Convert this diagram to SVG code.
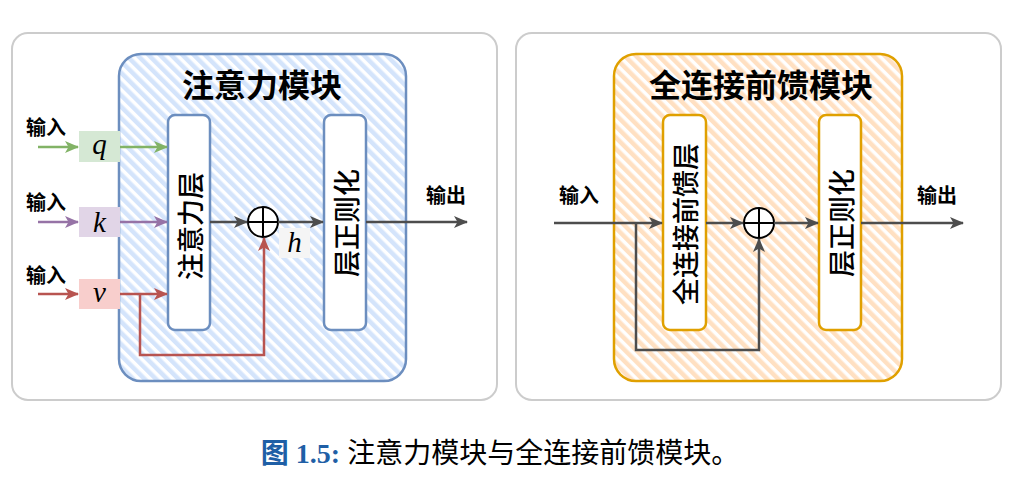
<svg xmlns="http://www.w3.org/2000/svg" width="1034" height="490" viewBox="0 0 1034 490">
<defs>
<style>
.panel{fill:#fff;stroke:#cccccc;stroke-width:2}
.lbl{font-family:"Noto Sans CJK SC",sans-serif;font-weight:bold;fill:#000}
.title{font-size:32px}
.io{font-size:20px}
.vt{font-size:27px;font-weight:500}
.math{font-family:"Liberation Serif",serif;font-style:italic;font-size:29px;fill:#000}
.box{fill:#fff;stroke-width:2.5}
.ln{fill:none;stroke-width:2.5}
</style>
<pattern id="hb" width="8" height="8" patternUnits="userSpaceOnUse" patternTransform="rotate(-45)">
<rect width="8" height="8" fill="#fff"/>
<rect width="4.5" height="8" fill="#d4e4fb"/>
</pattern>
<pattern id="ho" width="8" height="8" patternUnits="userSpaceOnUse" patternTransform="rotate(-45)">
<rect width="8" height="8" fill="#fff"/>
<rect width="4.5" height="8" fill="#ffe0c2"/>
</pattern>
<marker id="ag" viewBox="0 0 14 12" refX="13" refY="6" markerWidth="14" markerHeight="12" markerUnits="userSpaceOnUse" orient="auto"><path d="M0,0 L14,6 L0,12 L3.5,6 Z" fill="#82b366"/></marker>
<marker id="ap" viewBox="0 0 14 12" refX="13" refY="6" markerWidth="14" markerHeight="12" markerUnits="userSpaceOnUse" orient="auto"><path d="M0,0 L14,6 L0,12 L3.5,6 Z" fill="#9673a6"/></marker>
<marker id="ar" viewBox="0 0 14 12" refX="13" refY="6" markerWidth="14" markerHeight="12" markerUnits="userSpaceOnUse" orient="auto"><path d="M0,0 L14,6 L0,12 L3.5,6 Z" fill="#b85450"/></marker>
<marker id="ak" viewBox="0 0 14 12" refX="13" refY="6" markerWidth="14" markerHeight="12" markerUnits="userSpaceOnUse" orient="auto"><path d="M0,0 L14,6 L0,12 L3.5,6 Z" fill="#4d4d4d"/></marker>
</defs>

<rect class="panel" x="12" y="33" width="485" height="367" rx="16"/>
<rect class="panel" x="516" y="33" width="485" height="367" rx="16"/>

<g id="attn-block">
<rect x="119" y="54" width="287" height="327" rx="22" fill="url(#hb)" stroke="#6c8ebf" stroke-width="2.5"/>
<text class="lbl title" x="262" y="97" text-anchor="middle">注意力模块</text>
</g>
<g id="ffn-block">
<rect x="614" y="54" width="288" height="327" rx="22" fill="url(#ho)" stroke="#e0a000" stroke-width="2.5"/>
<text class="lbl title" x="761" y="97" text-anchor="middle">全连接前馈模块</text>
</g>

<g id="q"><rect x="79" y="131" width="41" height="31" fill="#d5e8d4"/><text class="math" x="99.5" y="154" text-anchor="middle">q</text></g>
<g id="k"><rect x="79" y="207" width="41" height="30" fill="#e1d5e7"/><text class="math" x="99.5" y="232" text-anchor="middle">k</text></g>
<g id="v"><rect x="79" y="279" width="41" height="30" fill="#f8cecc"/><text class="math" x="99.5" y="302" text-anchor="middle">v</text></g>

<g id="attn-layer">
<rect class="box" x="168" y="115" width="42" height="215" rx="7" stroke="#6c8ebf"/>
<text class="lbl vt" transform="translate(189,226) rotate(-90)" text-anchor="middle" dominant-baseline="central">注意力层</text>
</g>
<g id="ln1">
<rect class="box" x="324" y="115" width="42" height="215" rx="7" stroke="#6c8ebf"/>
<text class="lbl vt" transform="translate(345,223) rotate(-90)" text-anchor="middle" dominant-baseline="central">层正则化</text>
</g>
<g id="add1">
<circle cx="263" cy="222" r="15" fill="#fff" stroke="#000" stroke-width="2"/>
<path d="M248 222 H278 M263 207 V237" stroke="#000" stroke-width="2"/>
</g>
<g id="h-label">
<rect x="279" y="228" width="31" height="30" fill="#f5f5f5"/>
<text class="math" x="294.5" y="252" text-anchor="middle">h</text>
</g>

<g id="ffn-layer">
<rect class="box" x="663" y="115" width="43" height="215" rx="7" stroke="#e0a000"/>
<text class="lbl vt" transform="translate(684,224) rotate(-90)" text-anchor="middle" dominant-baseline="central">全连接前馈层</text>
</g>
<g id="ln2">
<rect class="box" x="819" y="115" width="42" height="215" rx="7" stroke="#e0a000"/>
<text class="lbl vt" transform="translate(840,223) rotate(-90)" text-anchor="middle" dominant-baseline="central">层正则化</text>
</g>
<g id="add2">
<circle cx="759" cy="223" r="15" fill="#fff" stroke="#000" stroke-width="2"/>
<path d="M744 223 H774 M759 208 V238" stroke="#000" stroke-width="2"/>
</g>

<g id="labels">
<text class="lbl io" x="46" y="135" text-anchor="middle">输入</text>
<text class="lbl io" x="46" y="210" text-anchor="middle">输入</text>
<text class="lbl io" x="46" y="283" text-anchor="middle">输入</text>
<text class="lbl io" x="446" y="203" text-anchor="middle">输出</text>
<text class="lbl io" x="579" y="203" text-anchor="middle">输入</text>
<text class="lbl io" x="937" y="203" text-anchor="middle">输出</text>
</g>

<g id="connectors">
<path class="ln" d="M38 147 H78" stroke="#82b366" marker-end="url(#ag)"/>
<path class="ln" d="M120 147 H167" stroke="#82b366" marker-end="url(#ag)"/>
<path class="ln" d="M38 222 H78" stroke="#9673a6" marker-end="url(#ap)"/>
<path class="ln" d="M120 222 H167" stroke="#9673a6" marker-end="url(#ap)"/>
<path class="ln" d="M38 294 H78" stroke="#b85450" marker-end="url(#ar)"/>
<path class="ln" d="M120 294 H167" stroke="#b85450" marker-end="url(#ar)"/>
<path class="ln" d="M140 294 V355 H264 V238" stroke="#b85450" marker-end="url(#ar)"/>
<path class="ln" d="M210 222 H247" stroke="#4d4d4d" marker-end="url(#ak)"/>
<path class="ln" d="M278 222 H323" stroke="#4d4d4d" marker-end="url(#ak)"/>
<path class="ln" d="M366 222 H467" stroke="#4d4d4d" marker-end="url(#ak)"/>
<path class="ln" d="M554 223 H662" stroke="#4d4d4d" marker-end="url(#ak)"/>
<path class="ln" d="M636 223 V350 H759 V239" stroke="#4d4d4d" marker-end="url(#ak)"/>
<path class="ln" d="M706 223 H743" stroke="#4d4d4d" marker-end="url(#ak)"/>
<path class="ln" d="M774 223 H818" stroke="#4d4d4d" marker-end="url(#ak)"/>
<path class="ln" d="M861 223 H963" stroke="#4d4d4d" marker-end="url(#ak)"/>
</g>

<g id="caption">
<text x="500" y="463" text-anchor="middle" font-size="28" font-family="'Liberation Serif','Noto Sans CJK SC',serif"><tspan font-weight="bold" fill="#1f5fa6">图 1.5:</tspan><tspan fill="#000"> 注意力模块与全连接前馈模块。</tspan></text>
</g>
</svg>
